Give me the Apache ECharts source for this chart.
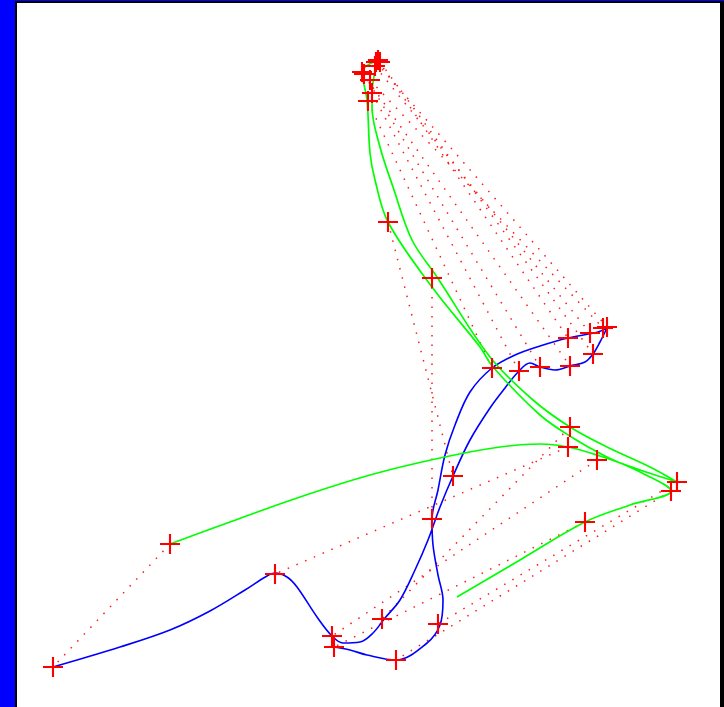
<!DOCTYPE html>
<html>
<head>
<meta charset="utf-8">
<script src="https://cdn.jsdelivr.net/npm/echarts@6/dist/echarts.min.js"></script>
<style>
  html, body { margin: 0; padding: 0; width: 724px; height: 707px; overflow: hidden; background: #0000ff; }
  #frame { position: absolute; left: 15px; top: 1px; width: 709px; height: 706px; background: #000; }
  #chart { position: absolute; left: 17px; top: 3px; width: 703px; height: 704px; background: #fff; }
</style>
</head>
<body>
<div id="frame"></div>
<div id="chart"></div>
<script>
// Plane extent of the view (data units)
const X_RANGE = [0, 703];
const Y_RANGE = [0, 704];

// Lower (blue) curve, traced in order
const blueCurve = [
  [36, 40], [103, 60], [153, 77], [193, 96], [228, 117], [250, 131], [258, 134],
  [270, 130], [280, 120], [300, 90], [315, 71], [326, 64], [343, 65], [356, 74],
  [368, 89], [383, 107], [398, 137], [411, 167], [423, 200], [436, 231], [453, 267],
  [473, 299], [488, 319], [502, 336], [513, 344], [523, 340], [538, 337], [553, 341],
  [568, 345], [576, 353], [583, 365], [590, 379], [581, 375], [551, 369], [523, 361],
  [498, 352], [475, 339], [453, 315], [438, 282], [428, 252], [421, 217], [415, 188],
  [416, 162], [421, 132], [426, 107], [423, 82], [410, 64], [379, 47], [350, 52],
  [333, 57], [317, 60]
];

// Upper (green) curve, traced in order
const greenCurve = [
  [153, 163], [213, 185], [283, 210], [353, 232], [423, 249], [483, 260], [523, 263],
  [551, 260], [583, 251], [623, 237], [660, 225], [633, 240], [590, 260], [553, 280],
  [516, 307], [473, 350], [420, 430], [395, 467], [376, 520], [363, 560], [355, 600],
  [355, 614], [361, 647], [345, 635], [350, 607], [353, 554], [358, 527], [371, 485],
  [415, 420], [463, 360], [476, 340], [523, 292], [556, 269], [590, 250], [623, 235],
  [654, 216], [613, 202], [568, 185], [503, 147], [440, 110]
];

// Matched sample points: greenMarks[i] is joined to blueMarks[i]
const greenMarks = [
  [153, 163], [551, 260], [553, 280], [580, 247], [568, 185], [654, 216],
  [660, 225], [415, 429], [371, 485], [351, 606], [355, 614], [347, 633],
  [345, 635], [363, 645], [361, 647], [358, 641], [353, 627], [359, 645]
];
const blueMarks = [
  [36, 40], [258, 133], [365, 88], [315, 71], [317, 60], [379, 47],
  [421, 83], [415, 188], [436, 231], [475, 339], [502, 336], [523, 340],
  [553, 341], [576, 353], [551, 369], [573, 374], [586, 379], [590, 380]
];

const rulings = greenMarks.map((g, i) => ({ coords: [g, blueMarks[i]] }));

const plusPath = 'path://M0,8.5H19V10.5H0Z M8.5,0H10.5V19H8.5Z';

const chart = echarts.init(document.getElementById('chart'), null, { renderer: 'canvas' });
chart.setOption({
  animation: false,
  backgroundColor: '#ffffff',
  grid: { left: 0, right: 0, top: 0, bottom: 0 },
  xAxis: { type: 'value', min: X_RANGE[0], max: X_RANGE[1], show: false },
  yAxis: { type: 'value', min: Y_RANGE[0], max: Y_RANGE[1], show: false },
  series: [
    {
      type: 'lines',
      coordinateSystem: 'cartesian2d',
      data: rulings,
      silent: true,
      lineStyle: { color: '#ff1a1a', width: 1.5, type: [1.5, 8], opacity: 1 },
      z: 1
    },
    {
      type: 'line',
      data: blueCurve,
      smooth: 0.35,
      showSymbol: false,
      lineStyle: { color: '#0000ff', width: 1.6 },
      z: 2
    },
    {
      type: 'line',
      data: greenCurve,
      smooth: 0.35,
      showSymbol: false,
      lineStyle: { color: '#00ff00', width: 1.7 },
      z: 2
    },
    {
      type: 'scatter',
      data: greenMarks.concat(blueMarks),
      symbol: plusPath,
      symbolSize: 20,
      itemStyle: { color: '#ff0000', opacity: 1 },
      z: 3
    }
  ]
});
</script>
</body>
</html>
